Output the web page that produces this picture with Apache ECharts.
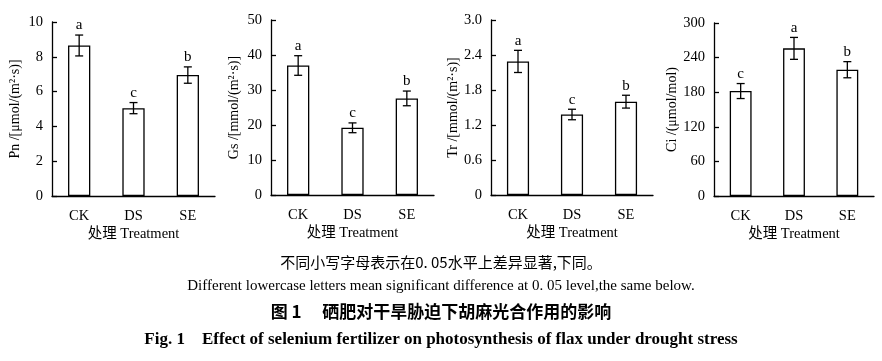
<!DOCTYPE html>
<html>
<head>
<meta charset="utf-8">
<script src="https://cdn.jsdelivr.net/npm/echarts@6/dist/echarts.min.js"></script>
<style>
html,body{margin:0;padding:0;background:#fff;}
#c{width:882px;height:361px;}
</style>
</head>
<body>
<div id="c"></div>
<script>
// ---- data ----
var categories = ['CK', 'DS', 'SE'];
var pnValues = [8.65, 5.05, 6.95];
var pnErrors = [0.60, 0.32, 0.47];
var pnLetters = ['a', 'c', 'b'];
var gsValues = [37.0, 19.2, 27.6];
var gsErrors = [2.8, 1.4, 2.1];
var gsLetters = ['a', 'c', 'b'];
var trValues = [2.29, 1.38, 1.60];
var trErrors = [0.19, 0.09, 0.11];
var trLetters = ['a', 'c', 'b'];
var ciValues = [182, 256, 219];
var ciErrors = [13, 19, 14];
var ciLetters = ['c', 'a', 'b'];
var pnTicks = ['0', '2', '4', '6', '8', '10'];
var gsTicks = ['0', '10', '20', '30', '40', '50'];
var trTicks = ['0', '0.6', '1.2', '1.8', '2.4', '3.0'];
var ciTicks = ['0', '60', '120', '180', '240', '300'];
var yNames = ['Pn /[μmol/(m²·s)]', 'Gs /[mmol/(m²·s)]', 'Tr /[mmol/(m²·s)]', 'Ci /(μmol/mol)'];
var xName = '处理 Treatment';

var panels = [
  {v: pnValues, e: pnErrors, l: pnLetters, t: pnTicks, max: 10, iv: 2},
  {v: gsValues, e: gsErrors, l: gsLetters, t: gsTicks, max: 50, iv: 10},
  {v: trValues, e: trErrors, l: trLetters, t: trTicks, max: 3, iv: 0.6},
  {v: ciValues, e: ciErrors, l: ciLetters, t: ciTicks, max: 300, iv: 60}
];

var FONT = '"Liberation Serif", "Times New Roman", "Noto Sans CJK SC", serif';
var grids = [
  {left: 52, top: 22, width: 163, height: 174},
  {left: 271, top: 20, width: 163, height: 175},
  {left: 491, top: 20, width: 162, height: 175},
  {left: 714, top: 23, width: 160, height: 173}
];

var xAxes = [], yAxes = [], series = [];
panels.forEach(function (p, i) {
  xAxes.push({
    type: 'category', gridIndex: i, data: categories,
    name: xName, nameLocation: 'middle', nameGap: 31,
    nameTextStyle: {fontFamily: FONT, fontSize: 14.5, color: '#000'},
    axisLine: {lineStyle: {color: '#000', width: 1.3}},
    axisTick: {inside: true, length: 5, lineStyle: {color: '#000', width: 1.3}},
    axisLabel: {fontFamily: FONT, fontSize: 14.5, color: '#000', margin: 13},
    splitLine: {show: false}
  });
  yAxes.push({
    type: 'value', gridIndex: i, min: 0, max: p.max, interval: p.iv,
    name: yNames[i], nameLocation: 'middle', nameGap: 30,
    nameTextStyle: {fontFamily: FONT, fontSize: 14, color: '#000'},
    axisLine: {show: true, lineStyle: {color: '#000', width: 1.3}},
    axisTick: {show: true, inside: true, length: 5, lineStyle: {color: '#000', width: 1.3}},
    axisLabel: {
      fontFamily: FONT, fontSize: 14.5, color: '#000', margin: 9,
      formatter: (function (ticks, iv) {
        return function (val) { return ticks[Math.round(val / iv)]; };
      })(p.t, p.iv)
    },
    splitLine: {show: false}
  });
  series.push({
    type: 'bar', xAxisIndex: i, yAxisIndex: i, data: p.v, barWidth: '41%',
    itemStyle: {color: '#fff', borderColor: '#000', borderWidth: 1.3},
    silent: true
  });
  var errData = p.v.map(function (v, k) { return [k, v, p.e[k], p.l[k]]; });
  series.push({
    type: 'custom', xAxisIndex: i, yAxisIndex: i, data: errData, silent: true, z: 5,
    renderItem: function (params, api) {
      var x = api.value(0), y = api.value(1), e = api.value(2);
      var letter = errData[params.dataIndex][3];
      var hi = api.coord([x, y + e]);
      var lo = api.coord([x, y - e]);
      var cap = 4;
      var st = {stroke: '#000', lineWidth: 1.3};
      return {
        type: 'group',
        children: [
          {type: 'line', shape: {x1: hi[0], y1: hi[1], x2: lo[0], y2: lo[1]}, style: st},
          {type: 'line', shape: {x1: hi[0] - cap, y1: hi[1], x2: hi[0] + cap, y2: hi[1]}, style: st},
          {type: 'line', shape: {x1: lo[0] - cap, y1: lo[1], x2: lo[0] + cap, y2: lo[1]}, style: st},
          {type: 'text', x: hi[0], y: hi[1] - 2, style: {
            text: letter, fill: '#000', font: '15px ' + FONT,
            textAlign: 'center', textVerticalAlign: 'bottom'
          }}
        ]
      };
    }
  });
});

var chart = echarts.init(document.getElementById('c'), null, {renderer: 'canvas'});
chart.setOption({
  backgroundColor: '#fff',
  animation: false,
  grid: grids,
  xAxis: xAxes,
  yAxis: yAxes,
  series: series,
  graphic: [
    {type: 'text', left: 'center', top: 255, style: {
      text: '不同小写字母表示在0. 05水平上差异显著,下同。', fill: '#000',
      font: '15px "Noto Sans CJK SC", sans-serif'}},
    {type: 'text', left: 'center', top: 279, style: {
      text: 'Different lowercase letters mean significant difference at 0. 05 level,the same below.', fill: '#000',
      font: '15px ' + FONT}},
    {type: 'text', left: 'center', top: 303, style: {
      text: '图 1\u3000 硒肥对干旱胁迫下胡麻光合作用的影响', fill: '#000',
      font: 'bold 17px "Noto Sans CJK SC", sans-serif'}},
    {type: 'text', left: 'center', top: 331, style: {
      text: 'Fig. 1    Effect of selenium fertilizer on photosynthesis of flax under drought stress', fill: '#000',
      font: 'bold 17px ' + FONT}}
  ]
});
</script>
</body>
</html>
